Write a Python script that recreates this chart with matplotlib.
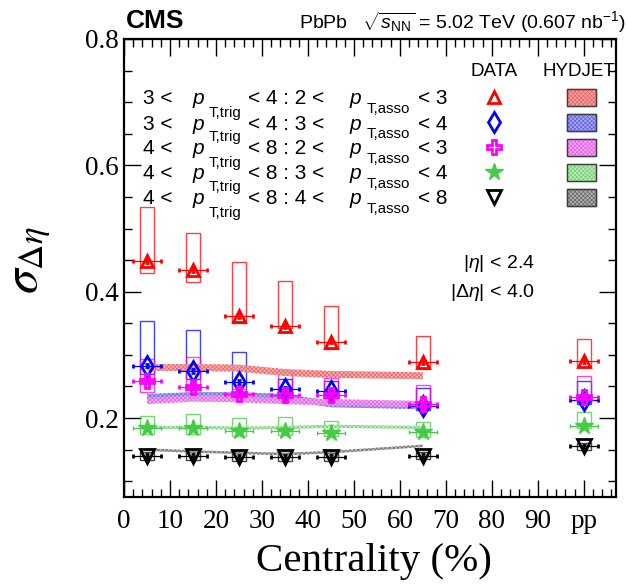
import matplotlib
matplotlib.use("Agg")
import matplotlib.pyplot as plt
from matplotlib.patches import Rectangle
from matplotlib.ticker import MultipleLocator, FixedLocator, FixedFormatter

plt.rcParams["font.family"] = ["Liberation Sans", "DejaVu Sans"]
plt.rcParams["mathtext.fontset"] = "custom"
plt.rcParams["mathtext.rm"] = "Liberation Sans"
plt.rcParams["mathtext.it"] = "Liberation Sans:italic"
plt.rcParams["mathtext.bf"] = "Liberation Sans:bold"
plt.rcParams["hatch.linewidth"] = 0.5

# centrality bins (%), pp drawn at x = 100
cent = [5, 15, 25, 35, 45, 65]
pp_x = 100

# DATA: values, systematic box low/high, last entry = pp
red_val = [0.449, 0.434, 0.361, 0.346, 0.321, 0.288, 0.290]
red_lo = [0.429, 0.415, 0.350, 0.342, 0.310, 0.278, 0.280]
red_hi = [0.534, 0.493, 0.447, 0.417, 0.377, 0.330, 0.325]

blue_val = [0.283, 0.274, 0.257, 0.246, 0.243, 0.219, 0.228]
blue_lo = [0.270, 0.262, 0.240, 0.236, 0.232, 0.212, 0.222]
blue_hi = [0.354, 0.339, 0.305, 0.262, 0.259, 0.247, 0.258]

mag_val = [0.259, 0.249, 0.238, 0.236, 0.236, 0.222, 0.233]
mag_lo = [0.242, 0.238, 0.229, 0.230, 0.227, 0.214, 0.230]
mag_hi = [0.294, 0.296, 0.246, 0.275, 0.264, 0.252, 0.267]

grn_val = [0.185, 0.184, 0.180, 0.180, 0.177, 0.178, 0.188]
grn_lo = [0.175, 0.175, 0.172, 0.173, 0.172, 0.170, 0.185]
grn_hi = [0.203, 0.207, 0.200, 0.201, 0.196, 0.193, 0.209]

blk_val = [0.140, 0.140, 0.138, 0.138, 0.138, 0.140, 0.155]
blk_lo = [0.133, 0.134, 0.132, 0.132, 0.132, 0.135, 0.150]
blk_hi = [0.147, 0.146, 0.145, 0.145, 0.145, 0.146, 0.160]

# HYDJET bands (centre, half width)
red_hyd = [0.280, 0.280, 0.279, 0.272, 0.269, 0.267]
blue_hyd = [0.233, 0.236, 0.236, 0.233, 0.222, 0.219]
mag_hyd = [0.227, 0.231, 0.230, 0.227, 0.225, 0.222]
grn_hyd = [0.185, 0.185, 0.184, 0.185, 0.187, 0.185]
blk_hyd = [0.150, 0.147, 0.145, 0.143, 0.146, 0.156]
hyd_half = [0.0055, 0.005, 0.005, 0.0025, 0.002]

trig_lo = ["3", "3", "4", "4", "4"]
trig_hi = ["4", "4", "8", "8", "8"]
asso_lo = ["2", "3", "2", "3", "4"]
asso_hi = ["3", "4", "3", "4", "8"]

xtick_pos = [0, 10, 20, 30, 40, 50, 60, 70, 80, 90, 100]
xtick_lab = ["0", "10", "20", "30", "40", "50", "60", "70", "80", "90", "pp"]

series = [
    # val, lo, hi, hydjet, marker, ms, color, facecolor, band fill, band edge
    (red_val, red_lo, red_hi, red_hyd, "^", 9, "#ff0000", "none", "#f6a8a8", "#e86060"),
    (blue_val, blue_lo, blue_hi, blue_hyd, "d", 10, "#0000ff", "none", "#a8a8f4", "#6060e0"),
    (mag_val, mag_lo, mag_hi, mag_hyd, "P", 10, "#ff00ff", "none", "#f6a8f6", "#e060e0"),
    (grn_val, grn_lo, grn_hi, grn_hyd, "*", 13, "#44cc44", "#44cc44", "#b8ecb8", "#78cc78"),
    (blk_val, blk_lo, blk_hi, blk_hyd, "v", 10, "#000000", "none", "#b0b0b0", "#686868"),
]

W, H = 627, 584
fig = plt.figure(figsize=(W / 100, H / 100), dpi=100)
ax = fig.add_axes([124 / W, 1 - 497 / H, (616 - 124) / W, (497 - 39) / H])


def fx(px):
    return px / W


def fy(py):
    return 1 - py / H


xs = cent + [pp_x]
for val, lo, hi, hyd, mk, ms, col, fc, bfill, bedge in series:
    for x, l, h in zip(xs, lo, hi):
        ax.add_patch(Rectangle((x - 1.5, l), 3, h - l, fill=False, ec=col,
                               lw=1.0, alpha=0.75, zorder=2))

for (val, lo, hi, hyd, mk, ms, col, fc, bfill, bedge), hw in zip(series, hyd_half):
    ax.fill_between(cent, [v - hw for v in hyd], [v + hw for v in hyd],
                    facecolor=bfill, edgecolor=bedge, hatch="xxxxxxxx", lw=0,
                    alpha=0.9, zorder=3)

for val, lo, hi, hyd, mk, ms, col, fc, bfill, bedge in series:
    ax.errorbar(xs, val, xerr=3, yerr=0.003, fmt=mk, ms=ms, mfc=fc, mec=col,
                mew=2 if fc == "none" else 1, color=col, ecolor=col,
                elinewidth=0.9, capsize=1.5, capthick=0.9, zorder=4)

ax.set_xlim(0, 107)
ax.set_ylim(0.075, 0.8)
ax.xaxis.set_major_locator(FixedLocator(xtick_pos))
ax.xaxis.set_major_formatter(FixedFormatter(xtick_lab))
ax.xaxis.set_minor_locator(MultipleLocator(2))
ax.yaxis.set_major_locator(MultipleLocator(0.2))
ax.yaxis.set_minor_locator(MultipleLocator(0.05))
ax.set_yticks([0.2, 0.4, 0.6, 0.8])
ax.set_yticklabels(["0.2", "0.4", "0.6", "0.8"])
ax.tick_params(which="both", direction="in", top=True, right=True, width=1)
ax.tick_params(which="major", length=12)
ax.tick_params(which="minor", length=6)
ax.tick_params(axis="x", pad=9)
ax.tick_params(axis="y", pad=4)
for lab in ax.get_xticklabels() + ax.get_yticklabels():
    lab.set_fontfamily("Liberation Serif")
    lab.set_fontsize(19.5)
for sp in ax.spines.values():
    sp.set_linewidth(1.6)

fig.text(fx(374), fy(562), "Centrality (%)", family="Liberation Serif",
         fontsize=29.5, ha="center", va="center")
fig.text(fx(30), fy(260), r"$\sigma_{\Delta\eta}$", fontsize=36,
         math_fontfamily="stix", rotation=90, ha="center", va="center")

fig.text(fx(126), fy(28), "CMS", fontsize=19, fontweight="bold", ha="left",
         va="baseline")
fig.text(fx(626), fy(28), r"PbPb   $\sqrt{s_{\mathrm{NN}}}$ = 5.02 TeV (0.607 nb$^{-1}$)",
         fontsize=14, ha="right", va="baseline")

# legend rows
fs, fss = 15, 10.8
fig.text(fx(494), fy(76), "DATA", fontsize=13.5, ha="center", va="baseline")
fig.text(fx(579), fy(76), "HYDJET", fontsize=13.5, ha="center", va="baseline")
for i, (val, lo, hi, hyd, mk, ms, col, fc, bfill, bedge) in enumerate(series):
    base = 104.5 + 25 * i
    fig.text(fx(143), fy(base), trig_lo[i] + " <", fontsize=fs, va="baseline")
    fig.text(fx(193), fy(base), "p", fontsize=fs, style="italic", va="baseline")
    fig.text(fx(209), fy(base + 12), "T,trig", fontsize=fss, va="baseline")
    fig.text(fx(248), fy(base), "< " + trig_hi[i] + " : " + asso_lo[i] + " <",
             fontsize=fs, va="baseline")
    fig.text(fx(350), fy(base), "p", fontsize=fs, style="italic", va="baseline")
    fig.text(fx(367), fy(base + 8.5), "T,asso", fontsize=fss, va="baseline")
    fig.text(fx(418), fy(base), "< " + asso_hi[i], fontsize=fs, va="baseline")
    yc = base - 7.5
    fig.lines.append(plt.Line2D([fx(494)], [fy(yc)], marker=mk, ms=ms, mfc=fc,
                                mec=col, mew=2 if fc == "none" else 1,
                                transform=fig.transFigure))
    fig.patches.append(Rectangle((fx(567), fy(yc + 8.5)), 29 / W, 17 / H,
                                 facecolor=bfill, edgecolor=bedge, hatch="xxxxxxxx",
                                 lw=1, transform=fig.transFigure))
    fig.patches.append(Rectangle((fx(567), fy(yc + 8.5)), 29 / W, 17 / H,
                                 fill=False, edgecolor="#404040", lw=1,
                                 transform=fig.transFigure))

fig.text(fx(535), fy(268), r"$|\eta|$ < 2.4", fontsize=14, ha="right",
         va="baseline")
fig.text(fx(535), fy(297), r"$|\Delta\eta|$ < 4.0", fontsize=14, ha="right",
         va="baseline")

fig.savefig("out.png", dpi=100)
